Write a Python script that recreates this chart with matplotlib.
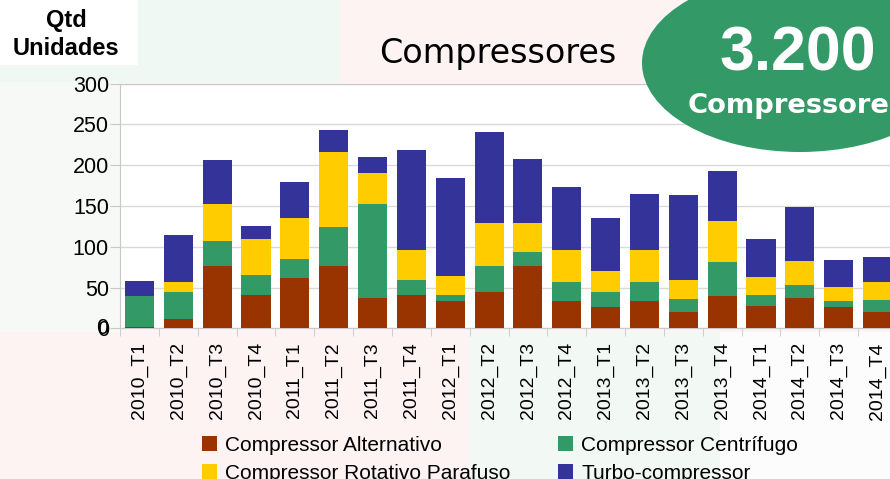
import numpy as np
import matplotlib
matplotlib.use("Agg")
import matplotlib.pyplot as plt
from matplotlib.patches import Ellipse, Rectangle

trimestres = ["2010_T1", "2010_T2", "2010_T3", "2010_T4",
              "2011_T1", "2011_T2", "2011_T3", "2011_T4",
              "2012_T1", "2012_T2", "2012_T3", "2012_T4",
              "2013_T1", "2013_T2", "2013_T3", "2013_T4",
              "2014_T1", "2014_T2", "2014_T3", "2014_T4"]

alternativo = [1, 11, 76, 41, 62, 76, 37, 41, 33, 45, 76, 33, 26, 33, 20, 40, 27, 37, 26, 20]
centrifugo = [39, 33, 31, 24, 23, 48, 115, 18, 8, 31, 18, 24, 19, 24, 16, 41, 14, 16, 8, 15]
rotativo = [0, 13, 45, 44, 50, 92, 38, 37, 23, 53, 35, 39, 25, 39, 23, 50, 22, 29, 17, 22]
turbo = [18, 57, 54, 16, 44, 27, 20, 122, 120, 111, 78, 77, 65, 68, 104, 62, 46, 67, 33, 30]

series = [("Compressor Alternativo", alternativo, "#993300"),
          ("Compressor Centrífugo", centrifugo, "#339966"),
          ("Compressor Rotativo Parafuso", rotativo, "#FFCC00"),
          ("Turbo-compressor", turbo, "#333399")]

W, H = 890, 479
fig = plt.figure(figsize=(W / 100, H / 100), dpi=100)
fig.patch.set_facecolor("#fdf3f2")

# fundo (imitando o slide)
bg = fig.add_axes([0, 0, 1, 1], zorder=0)
bg.set_xlim(0, W)
bg.set_ylim(H, 0)
bg.axis("off")
bg.add_patch(Rectangle((0, 0), 340, 82, color="#eff8f2", lw=0))
bg.add_patch(Rectangle((0, 82), 120, 250, color="#f6f9f6", lw=0))
bg.add_patch(Rectangle((470, 332), 250, 147, color="#f2f9f4", lw=0))
bg.add_patch(Rectangle((720, 332), 170, 147, color="#fbfcfb", lw=0))

# grafico principal
ax = fig.add_axes([120 / W, 1 - 328.3 / H, 777 / W, (328.3 - 83.5) / H], zorder=1)
ax.set_facecolor("white")
x = np.arange(len(trimestres))
base = np.zeros(len(trimestres))
handles = {}
for nome, vals, cor in series:
    b = ax.bar(x, vals, 0.75, bottom=base, color=cor, label=nome, zorder=3)
    handles[nome] = b
    base += np.array(vals)

ax.set_xlim(-0.5, len(trimestres) - 0.5)
ax.set_ylim(0, 300)
ax.set_yticks(range(0, 301, 50))
ax.set_yticklabels([str(v) for v in range(0, 301, 50)], family="Liberation Sans", fontsize=15.5)
ax.set_xticks(x)
ax.set_xticklabels(trimestres, rotation=90, family="Liberation Sans", fontsize=14)
ax.set_xticks(np.arange(-0.5, len(trimestres), 1), minor=True)
ax.tick_params(axis="x", which="major", length=0, pad=10)
ax.tick_params(axis="x", which="minor", length=6, color="#c8c8c8")
ax.tick_params(axis="y", length=7, color="#c8c8c8", pad=1)
ax.grid(axis="y", color="#d9d9d9", lw=1, zorder=0)
for s in ["left", "bottom", "top"]:
    ax.spines[s].set_color("#c8c8c8")
ax.spines["right"].set_visible(False)

# legenda em duas colunas (ordem por coluna)
ordem = ["Compressor Alternativo", "Compressor Rotativo Parafuso",
         "Compressor Centrífugo", "Turbo-compressor"]
fig.legend([handles[n] for n in ordem], ordem, loc="upper left",
           bbox_to_anchor=(202 / W, 1 - 436 / H), ncol=2, frameon=False,
           prop={"family": "Liberation Sans", "size": 15},
           handlelength=0.7, handleheight=0.7, handletextpad=0.4,
           labelspacing=0.42, columnspacing=2.3, borderaxespad=0, borderpad=0)

# sobreposicao: titulo, caixa Qtd, elipse
ov = fig.add_axes([0, 0, 1, 1], zorder=2)
ov.set_xlim(0, W)
ov.set_ylim(H, 0)
ov.axis("off")
ov.patch.set_alpha(0)
ov.add_patch(Rectangle((0, 0), 138, 65, color="white", lw=0))
ov.text(66, 20, "Qtd", ha="center", va="center", fontsize=17, weight="bold",
        family="Liberation Sans")
ov.text(66, 48, "Unidades", ha="center", va="center", fontsize=17, weight="bold",
        family="Liberation Sans")
ov.text(108, 329, "0", ha="right", va="center", fontsize=15.5, family="Liberation Sans")
ov.text(498, 63, "Compressores", ha="center", va="baseline", fontsize=24,
        family="DejaVu Sans")
ov.add_patch(Ellipse((800, 63), 316, 178, color="#339966", lw=0))
ov.text(798, 70, "3.200", ha="center", va="baseline", fontsize=45, weight="bold",
        color="white", family="Liberation Sans")
ov.text(688, 113, "Compressores", ha="left", va="baseline", fontsize=19.7,
        weight="bold", color="white", family="DejaVu Sans")

fig.savefig("out.png", dpi=100, facecolor=fig.get_facecolor())
